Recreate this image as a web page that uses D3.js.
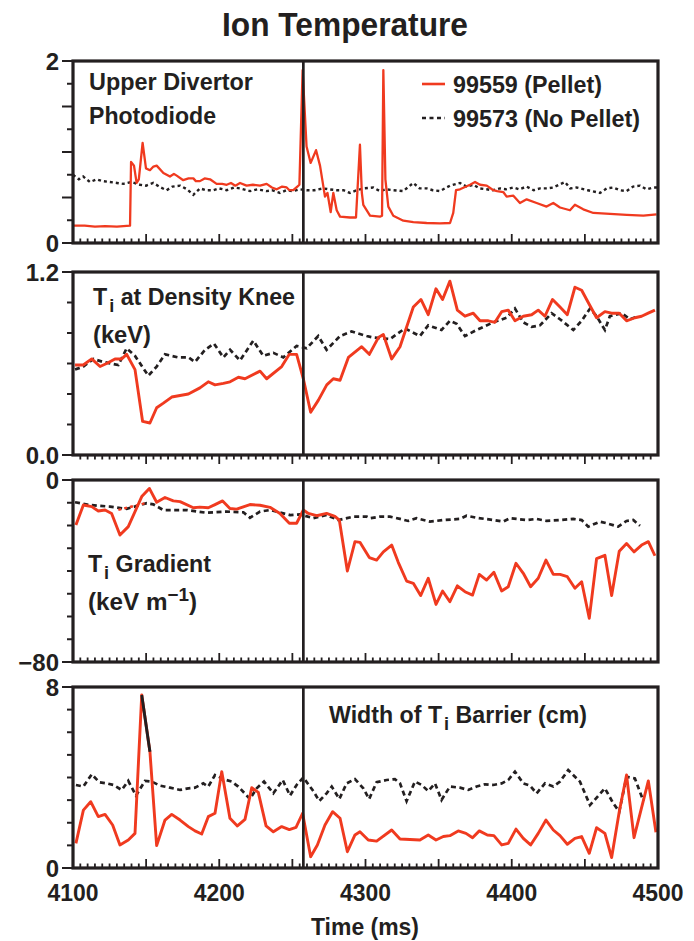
<!DOCTYPE html>
<html>
<head>
<meta charset="utf-8">
<script src="https://cdn.jsdelivr.net/npm/d3@7"></script>
<style>
  body { margin: 0; background: #fff; }
  text { font-family: "Liberation Sans", Arial, sans-serif; font-weight: bold; fill: #231f20; }
</style>
</head>
<body>
<svg id="chart" width="694" height="941"></svg>
<script>
// ---- data: [time (ms), value] ----

// Upper divertor photodiode
var diodePellet = [[4100,0.19],[4108,0.19],[4115,0.18],[4122,0.185],[4130,0.18],[4139,0.19],[4139.7,0.89],[4141.7,0.85],[4143.5,0.66],[4145,0.7],[4147.6,1.10],[4149.9,0.82],[4152.6,0.80],[4155,0.84],[4157.2,0.85],[4161.8,0.77],[4166.3,0.73],[4169,0.76],[4170.9,0.74],[4175.4,0.69],[4179,0.71],[4182.3,0.71],[4184,0.68],[4186.8,0.68],[4190,0.71],[4193.7,0.70],[4198.2,0.65],[4202,0.65],[4205.1,0.64],[4208,0.66],[4211,0.63],[4214.2,0.66],[4218.7,0.63],[4223,0.64],[4227.9,0.63],[4232.4,0.65],[4236,0.61],[4239.3,0.59],[4243,0.62],[4246.1,0.61],[4248,0.58],[4250.6,0.58],[4253.4,0.62],[4254.8,0.64],[4257,1.9],[4259.7,1.06],[4262.5,0.88],[4266.2,1.02],[4268.9,0.85],[4272.3,0.51],[4274,0.55],[4276.2,0.34],[4278,0.55],[4280.3,0.36],[4282.6,0.29],[4289.4,0.28],[4293.5,0.28],[4296.2,1.08],[4297.5,0.55],[4298.5,0.42],[4303.1,0.30],[4309.9,0.29],[4311.3,0.30],[4312.2,1.9],[4313.6,0.7],[4315.6,0.40],[4319,0.30],[4325.9,0.245],[4332.7,0.23],[4341.8,0.22],[4350.9,0.215],[4357.8,0.22],[4360,0.33],[4361.9,0.58],[4364.6,0.59],[4371.5,0.64],[4374.9,0.67],[4378.3,0.64],[4382.9,0.63],[4387.4,0.58],[4390,0.57],[4394.2,0.56],[4396.5,0.51],[4401.1,0.52],[4405.6,0.44],[4410.2,0.48],[4417,0.44],[4423.8,0.40],[4428.4,0.44],[4433,0.39],[4439.8,0.36],[4443.2,0.42],[4448.9,0.37],[4455.8,0.33],[4467.2,0.32],[4478.6,0.31],[4490,0.30],[4499,0.315]];
var diodeNoPellet = [[4100,0.75],[4104,0.70],[4107,0.73],[4111.6,0.67],[4116.2,0.70],[4120,0.68],[4125.3,0.67],[4130,0.66],[4134.4,0.65],[4140,0.67],[4145.8,0.64],[4150,0.63],[4154.9,0.66],[4160,0.61],[4164,0.58],[4168,0.62],[4173.2,0.63],[4178,0.59],[4182.3,0.53],[4186.8,0.60],[4191,0.58],[4195.9,0.58],[4200,0.60],[4205.1,0.58],[4210,0.61],[4214.2,0.60],[4221,0.57],[4226,0.59],[4232.4,0.57],[4236,0.58],[4241.5,0.55],[4246,0.58],[4250.6,0.57],[4255,0.59],[4259.7,0.58],[4265,0.58],[4271.1,0.60],[4275,0.59],[4280.3,0.58],[4285,0.58],[4289.4,0.55],[4294,0.58],[4298.5,0.60],[4305.3,0.61],[4309.9,0.57],[4314,0.59],[4319,0.58],[4325.8,0.57],[4332.7,0.66],[4337,0.60],[4341.8,0.60],[4346,0.58],[4350.9,0.57],[4357.7,0.63],[4364.6,0.66],[4369,0.62],[4373.7,0.64],[4378,0.60],[4382.8,0.59],[4387,0.58],[4391.9,0.60],[4396,0.59],[4401,0.61],[4405,0.59],[4410.2,0.62],[4415,0.58],[4419.3,0.60],[4424,0.60],[4428.4,0.61],[4436.4,0.67],[4440,0.60],[4444.3,0.61],[4452,0.58],[4460.3,0.55],[4465,0.60],[4469.4,0.61],[4474,0.58],[4478.5,0.57],[4483,0.62],[4487.7,0.63],[4492,0.59],[4496.8,0.61],[4500,0.61]];

// Ti at density knee (keV)
var kneePellet = [[4101.4,0.59],[4107,0.59],[4112.8,0.63],[4118.5,0.58],[4123,0.60],[4128.7,0.63],[4133.3,0.63],[4136.7,0.66],[4142.4,0.56],[4147.6,0.22],[4152.6,0.21],[4157.2,0.31],[4161.8,0.34],[4167.5,0.38],[4173.2,0.39],[4178.9,0.40],[4186.8,0.44],[4192.5,0.48],[4197.1,0.46],[4202.8,0.47],[4207.4,0.48],[4213.1,0.51],[4217.6,0.50],[4227.9,0.55],[4232.4,0.50],[4242.7,0.58],[4247.9,0.66],[4252.9,0.66],[4257.5,0.50],[4262.5,0.28],[4267.8,0.36],[4273.5,0.46],[4278,0.50],[4282.6,0.49],[4288.3,0.64],[4297.4,0.71],[4302.6,0.66],[4308.8,0.77],[4312.2,0.79],[4317.9,0.63],[4323.6,0.71],[4332.7,0.97],[4337.9,1.02],[4342.9,0.92],[4348.2,1.09],[4352.7,1.02],[4357.7,1.14],[4362.8,0.95],[4368,0.91],[4373.7,0.93],[4378.3,0.88],[4384,0.88],[4388.5,0.87],[4393.1,0.94],[4397.6,0.95],[4402.2,0.88],[4407.9,0.91],[4413.6,0.92],[4418.1,0.95],[4422.7,0.91],[4427.9,1.02],[4433,0.97],[4438,0.92],[4443.2,1.10],[4447.8,1.08],[4452.3,1.0],[4458,0.90],[4463.7,0.94],[4468.3,0.93],[4473.5,0.93],[4478.5,0.88],[4484.2,0.90],[4488.8,0.91],[4493.3,0.93],[4497.9,0.95]];
var kneeNoPellet = [[4101.4,0.56],[4107.1,0.58],[4113.9,0.63],[4120.7,0.61],[4126,0.60],[4131,0.59],[4136.7,0.70],[4142.4,0.65],[4151.5,0.52],[4157.2,0.58],[4162.9,0.66],[4172,0.64],[4178.9,0.64],[4183.4,0.61],[4190.3,0.69],[4196.4,0.73],[4202.8,0.64],[4207.4,0.69],[4214.2,0.62],[4223.3,0.75],[4230.1,0.65],[4237,0.67],[4243.8,0.64],[4252.9,0.715],[4259.8,0.70],[4267.7,0.78],[4273.4,0.69],[4282.6,0.78],[4290.5,0.81],[4300.8,0.78],[4305.3,0.77],[4316.7,0.76],[4327,0.83],[4337.2,0.78],[4342.9,0.85],[4352,0.82],[4357.7,0.88],[4362.3,0.86],[4368,0.78],[4376,0.82],[4387.4,0.87],[4396.5,0.90],[4402.2,0.96],[4407.9,0.87],[4413.6,0.84],[4419.3,0.85],[4427.3,0.93],[4433,0.89],[4442.1,0.82],[4447.8,0.88],[4453.5,0.96],[4458,0.91],[4463.7,0.82],[4467.1,0.91],[4475.1,0.93],[4480.8,0.89],[4486.5,0.91]];

// Ti gradient (keV m^-1)
var gradPellet = [[4102,-19.8],[4107.1,-11],[4112.8,-11.7],[4117.3,-13.6],[4121.9,-13.2],[4126.4,-14.7],[4132.1,-24.2],[4137.8,-20.5],[4147,-7.3],[4152.2,-3.7],[4157.2,-9.8],[4162.9,-7.7],[4168.6,-9.2],[4173.2,-9.5],[4182.3,-12.2],[4186.8,-11.9],[4192.5,-12.2],[4197.1,-10.8],[4202.3,-9.2],[4207.3,-12.5],[4211.9,-12.8],[4221,-10.8],[4227.9,-11.1],[4234.7,-12],[4241.5,-14.7],[4247.9,-19],[4252.9,-19],[4257.5,-13.2],[4260.9,-14.7],[4266.6,-15.7],[4273.4,-14.7],[4279.1,-16],[4282.1,-17.6],[4287.6,-40],[4292.8,-27.1],[4296.2,-27.4],[4302.6,-34.1],[4307.6,-35.2],[4312.2,-31.6],[4317.9,-28.6],[4322.4,-36.2],[4328.1,-44.4],[4332.7,-45.4],[4337.7,-50.8],[4342.9,-43.2],[4348.2,-54.7],[4352.7,-48.8],[4357.7,-53.5],[4362.8,-46.5],[4368,-49.1],[4373.2,-50.6],[4377.8,-41.5],[4382.8,-44],[4387.8,-40.6],[4393.1,-48.8],[4397.6,-46.9],[4402.9,-36.6],[4407.9,-41],[4412.9,-46.9],[4418.1,-43.2],[4423.4,-35.2],[4428.4,-41.5],[4433,-41.5],[4438,-42.5],[4443.2,-47.6],[4447.8,-44.7],[4453,-60.8],[4458,-34.6],[4463.7,-33.1],[4468.3,-50.8],[4473.5,-31.3],[4478.5,-27.9],[4483.6,-31.6],[4488.8,-28.6],[4493.4,-27.1],[4497.9,-33.3]];
var gradPelletGap = [[4131,-13.1],[4150.8,-10]];
var gradNoPellet = [[4101.4,-9.8],[4111.6,-11],[4125.3,-11.7],[4136.7,-12.7],[4150.4,-10.2],[4154.9,-10.7],[4161.8,-13.2],[4177.7,-13.2],[4191.4,-14.4],[4205.1,-13.9],[4216.5,-14.2],[4221,-16.6],[4227.9,-13.9],[4234.7,-13.2],[4248.4,-15.4],[4255.2,-15.1],[4264.3,-16.8],[4273.4,-15.4],[4281.4,-17.6],[4291.7,-16.1],[4300.8,-16.1],[4303,-16.8],[4309.9,-16.1],[4316.7,-16.1],[4323.6,-17.1],[4329.2,-18],[4334.9,-16.8],[4344.1,-18.3],[4353.2,-17.6],[4364.6,-17.1],[4369.1,-15.7],[4376,-16.6],[4387.4,-17.6],[4394.2,-18.3],[4398.8,-16.8],[4410.2,-17.6],[4417,-17.1],[4423.8,-18],[4433,-17.6],[4442.1,-17.1],[4447.8,-17.6],[4452.3,-20.5],[4460.3,-18.3],[4464.9,-19],[4472.8,-20.5],[4478.5,-18],[4483.1,-17.6],[4487.7,-20.1]];

// Width of Ti barrier (cm)
var widthPellet = [[4102,1.09],[4107.1,2.56],[4112.1,2.93],[4117.3,2.27],[4121.9,2.37],[4127.1,1.9],[4132.1,1.02],[4137.8,1.24],[4142.4,1.53],[4147,7.65],[4152.6,5.14],[4157.2,0.99],[4162.9,2.12],[4167.5,2.37],[4173.2,2.12],[4178.9,1.83],[4183.4,1.64],[4188,1.5],[4192.5,2.27],[4197.1,2.42],[4201.7,4.26],[4207.3,2.2],[4212.4,1.86],[4217.6,2.15],[4222.2,3.55],[4226.7,3.34],[4232,1.86],[4237,1.6],[4242.7,1.83],[4247.9,1.7],[4252.5,1.8],[4257,2.42],[4262.5,0.5],[4267.1,1.02],[4272.3,1.9],[4277.5,2.49],[4282.6,2.2],[4287.6,0.72],[4292.8,1.46],[4296.2,1.6],[4301.9,1.24],[4307.6,1.19],[4317.9,1.68],[4323.6,1.28],[4337.2,1.24],[4342.9,1.46],[4348.2,1.24],[4353.2,1.39],[4357.7,1.43],[4363.4,1.64],[4368.7,1.53],[4373.2,1.34],[4377.8,1.64],[4383.3,1.46],[4387.8,1.43],[4393.1,1.02],[4397.6,1.09],[4402.9,1.72],[4407.9,1.31],[4412.9,1.02],[4418.1,1.53],[4423.4,2.12],[4428.4,1.68],[4433,1.43],[4438,1.05],[4443.2,1.31],[4447.8,1.39],[4453,0.65],[4458,1.78],[4463.7,1.53],[4468.3,0.46],[4473.5,2.49],[4478.5,4.11],[4483.6,1.34],[4493.4,3.85],[4498.6,1.58]];
var widthPelletBlack = [[4147,7.65],[4152.6,5.14]];
var widthNoPellet = [[4102,3.67],[4107.1,3.6],[4112.8,4.14],[4118,3.79],[4123,3.74],[4127.6,3.67],[4133.3,3.45],[4137.8,3.85],[4143.1,3.2],[4149.2,3.85],[4153.8,3.82],[4159.5,3.64],[4166.3,3.55],[4173.2,3.45],[4178.9,3.52],[4183.4,3.55],[4189.1,3.74],[4192.5,3.6],[4197.1,4.11],[4202.8,3.93],[4208.5,3.82],[4213,3.6],[4221,3.05],[4225.6,3.52],[4230.6,3.82],[4237,3.3],[4243.4,3.89],[4248.4,3.2],[4252.9,3.67],[4257.5,4.0],[4264.3,3.4],[4268.4,2.96],[4273.4,3.3],[4276.9,3.6],[4282.1,3.05],[4287.1,3.74],[4292.8,3.93],[4298.5,3.52],[4302.5,3.05],[4307.6,3.79],[4314.4,3.89],[4320.1,3.93],[4323.6,3.74],[4328.1,2.96],[4333.8,3.82],[4338.4,3.67],[4342.9,3.4],[4347.5,3.74],[4352,3.01],[4357.7,3.6],[4364.6,3.55],[4370.3,3.45],[4376,3.6],[4381.7,3.7],[4387.4,3.67],[4393.1,3.74],[4397.6,3.89],[4402.2,4.26],[4407.9,3.74],[4412.4,3.64],[4417,3.3],[4422.7,3.74],[4428.4,3.6],[4433,3.82],[4438.6,4.33],[4446.6,3.82],[4453.5,2.78],[4463.7,3.52],[4469.4,2.86],[4473.5,2.49],[4478.5,4.03],[4484.2,3.96],[4490,2.96]];

var xTickLabels = [4100, 4200, 4300, 4400, 4500];
var pelletTime = 4257.5;
var legendLabels = ['99559 (Pellet)', '99573 (No Pellet)'];

// ---- layout ----
var left = 73, right = 658;
var red = '#f03a1f', ink = '#231f20';
var svg = d3.select('#chart');
var x = d3.scaleLinear().domain([4100, 4500]).range([left, right]);

var panels = [
  { top: 61,  bottom: 243, domain: [0, 2],   step: 0.25, major: 0.5, labels: ['0', '2'],        pellet: diodePellet, noPellet: diodeNoPellet, thin: true,  tickDir: -1 },
  { top: 272, bottom: 455, domain: [0, 1.2], step: 0.2,  major: 1.2, labels: ['0.0', '1.2'],    pellet: kneePellet,  noPellet: kneeNoPellet,  thin: false, tickDir: 1 },
  { top: 480, bottom: 662, domain: [-80, 0], step: 10,   major: 80,  labels: ['\u221280', '0'], pellet: gradPellet,  noPellet: gradNoPellet,  thin: false, tickDir: -1 },
  { top: 687, bottom: 868, domain: [0, 8],   step: 1,    major: 8,   labels: ['0', '8'],        pellet: widthPellet, noPellet: widthNoPellet, thin: false, tickDir: -1 }
];

var defs = svg.append('defs');

panels.forEach(function(p, i){
  var y = d3.scaleLinear().domain(p.domain).range([p.bottom, p.top]);
  var g = svg.append('g');

  defs.append('clipPath').attr('id', 'clip' + i).append('rect')
    .attr('x', left).attr('y', p.top).attr('width', right - left).attr('height', p.bottom - p.top);

  var line = d3.line().x(function(d){ return x(d[0]); }).y(function(d){ return y(d[1]); });
  var plot = g.append('g').attr('clip-path', 'url(#clip' + i + ')');

  // No-pellet shot (dashed black)
  plot.append('path').datum(p.noPellet).attr('d', line)
    .attr('fill', 'none').attr('stroke', ink)
    .attr('stroke-width', p.thin ? 2.4 : 2.7)
    .attr('stroke-dasharray', p.thin ? '3,3' : '5,3.5');

  // Pellet shot (red)
  plot.append('path').datum(p.pellet).attr('d', line)
    .attr('fill', 'none').attr('stroke', red)
    .attr('stroke-width', p.thin ? 2.3 : 2.9).attr('stroke-linejoin', 'round');

  if (i == 2) {
    plot.append('path').datum(gradPelletGap).attr('d', line)
      .attr('fill', 'none').attr('stroke', red).attr('stroke-width', 2.4).attr('stroke-dasharray', '3,3');
  }
  if (i == 3) {
    plot.append('path').datum(widthPelletBlack).attr('d', line)
      .attr('fill', 'none').attr('stroke', ink).attr('stroke-width', 2.9);
  }

  // pellet injection time
  g.append('line').attr('x1', x(pelletTime)).attr('x2', x(pelletTime))
    .attr('y1', p.top).attr('y2', p.bottom).attr('stroke', ink).attr('stroke-width', 2.7);

  // x ticks every 5 ms, longer every 50 ms
  var xt = d3.range(4105, 4500, 5);
  g.selectAll('.xt').data(xt).enter().append('line')
    .attr('x1', function(d){ return x(d); }).attr('x2', function(d){ return x(d); })
    .attr('y1', p.bottom)
    .attr('y2', function(d){ var len = (d % 50 == 0) ? 9 : 4.5; return p.bottom + p.tickDir * len; })
    .attr('stroke', ink).attr('stroke-width', 1.8);

  // y ticks (outside, to the left)
  var n = Math.round((p.domain[1] - p.domain[0]) / p.step);
  var yt = d3.range(0, n + 1).map(function(k){ return p.domain[0] + k * p.step; });
  g.selectAll('.yt').data(yt).enter().append('line')
    .attr('x1', left).attr('y1', function(d){ return y(d); }).attr('y2', function(d){ return y(d); })
    .attr('x2', function(d){
      var r = Math.abs((d - p.domain[0]) / p.major - Math.round((d - p.domain[0]) / p.major));
      return left - (r < 1e-6 ? 11 : 6);
    })
    .attr('stroke', ink).attr('stroke-width', 2);

  // y end labels
  g.selectAll('.yl').data(p.domain).enter().append('text')
    .attr('x', 59).attr('y', function(d){ return y(d); }).attr('dy', '0.36em')
    .attr('text-anchor', 'end').style('font-size', '24px')
    .text(function(d, k){ return p.labels[k]; });

  // frame
  g.append('rect').attr('x', left).attr('y', p.top)
    .attr('width', right - left).attr('height', p.bottom - p.top)
    .attr('fill', 'none').attr('stroke', ink).attr('stroke-width', 3.2);
});

// ---- texts ----
function label(x0, y0, parts, size, anchor, len){
  var t = svg.append('text').attr('x', x0).attr('y', y0)
    .attr('text-anchor', anchor || 'start').style('font-size', size + 'px');
  var shift = 0;
  parts.forEach(function(s){
    var txt = typeof s == 'string' ? s : s[0];
    var kind = typeof s == 'string' ? '' : s[1];
    var target = kind == 'sub' ? 0.3 * size : (kind == 'sup' ? -0.38 * size : 0);
    var ts = t.append('tspan').attr('dy', target - shift).text(txt);
    if (kind) ts.style('font-size', (0.78 * size) + 'px');
    if (kind == 'sub') ts.attr('dx', 2);
    shift = target;
  });
  if (len) t.attr('textLength', len).attr('lengthAdjust', 'spacingAndGlyphs');
  return t;
}

label(345, 36, ['Ion Temperature'], 34, 'middle', 246);
label(89, 90, ['Upper Divertor'], 24, 'start', 164);
label(89, 124, ['Photodiode'], 24, 'start', 127);

label(93, 305, ['T', ['i', 'sub'], ' at Density Knee'], 24, 'start', 202);
label(93, 343, ['(keV)'], 24, 'start', 58);

label(88, 572, ['T', ['i', 'sub'], ' Gradient'], 24, 'start', 123);
label(88, 610, ['(keV m', ['\u22121', 'sup'], ')'], 24, 'start', 109);

label(329, 723, ['Width of T', ['i', 'sub'], ' Barrier (cm)'], 23.2, 'start');

// legend
svg.append('line').attr('x1', 422).attr('x2', 445).attr('y1', 84).attr('y2', 84)
  .attr('stroke', red).attr('stroke-width', 2.6);
svg.append('line').attr('x1', 422).attr('x2', 445).attr('y1', 118).attr('y2', 118)
  .attr('stroke', ink).attr('stroke-width', 2.4).attr('stroke-dasharray', '4,3.5');
label(453, 93, [legendLabels[0]], 24, 'start', 149);
label(453, 127, [legendLabels[1]], 24, 'start', 187);

// x axis labels under the last panel
xTickLabels.forEach(function(v){
  label(x(v), 901, [String(v)], 24, 'middle', 51);
});
label(365, 935, ['Time (ms)'], 24, 'middle', 108);
</script>
</body>
</html>
